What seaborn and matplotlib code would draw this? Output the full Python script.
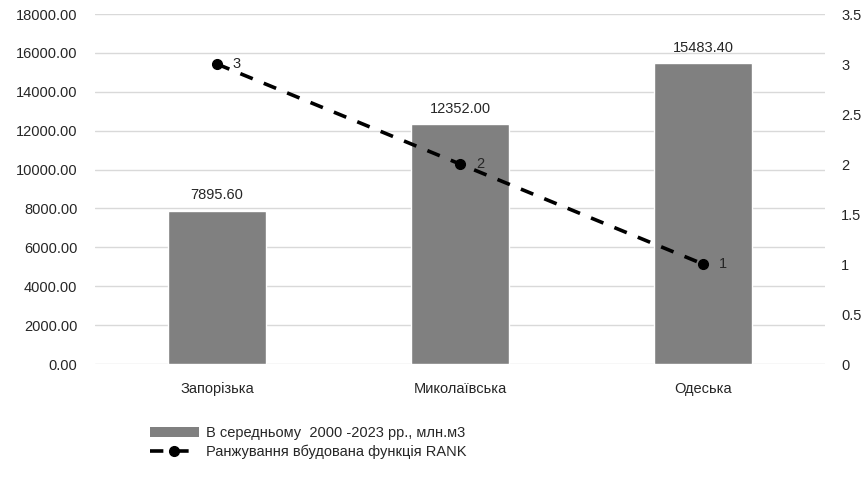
import numpy as np
import pandas as pd
import matplotlib
matplotlib.use("Agg")
import matplotlib.pyplot as plt
import seaborn as sns
from matplotlib.lines import Line2D
from matplotlib.patches import Patch

# data
regions = ["Запорізька", "Миколаївська", "Одеська"]
avg_volume = [7895.60, 12352.00, 15483.40]
rank = [3, 2, 1]

bar_label = "В середньому  2000 -2023 рр., млн.м3"
line_label = "Ранжування вбудована функція RANK"

sns.set_theme(style="white")
plt.rcParams["font.family"] = ["Liberation Sans", "DejaVu Sans"]
plt.rcParams["font.size"] = 10.5

dash = (0, (3.7, 3.3))

fig = plt.figure(figsize=(8.68, 4.92), dpi=100)
ax = fig.add_axes([0.110, 0.26, 0.840, 0.7115])

df = pd.DataFrame({"region": regions, "value": avg_volume, "rank": rank})
sns.barplot(data=df, x="region", y="value", color="#808080", width=0.4,
            saturation=1, ax=ax, zorder=2)
for i, v in enumerate(avg_volume):
    ax.annotate(f"{v:.2f}", (i, v), xytext=(0, 6), textcoords="offset points",
                ha="center", va="bottom", fontsize=10.5)

ax.set_ylim(0, 18000)
ax.set_yticks(np.arange(0, 18001, 2000))
ax.set_yticklabels([f"{t:.2f}" for t in np.arange(0, 18001, 2000)])
ax.set_xlim(-0.5, 2.5)
ax.set_xlabel("")
ax.set_ylabel("")
ax.grid(axis="y", color="#d9d9d9", linewidth=1, zorder=0)
for s in ax.spines.values():
    s.set_visible(False)
ax.tick_params(axis="both", length=0, labelsize=10.5)
ax.tick_params(axis="y", pad=13)
ax.tick_params(axis="x", pad=13)

ax2 = ax.twinx()
ax2.plot(range(len(regions)), rank, color="black", linestyle=dash,
         linewidth=2.6, marker="o", markersize=7, zorder=3)
for i, r in enumerate(rank):
    ax2.text(i + 0.065, r, str(r), ha="left", va="center", fontsize=10.5)
ax2.set_ylim(0, 3.5)
ax2.set_yticks(np.arange(0, 3.51, 0.5))
ax2.set_yticklabels(["0", "0.5", "1", "1.5", "2", "2.5", "3", "3.5"])
ax2.set_xlim(-0.5, 2.5)
for s in ax2.spines.values():
    s.set_visible(False)
ax2.tick_params(axis="y", length=0, labelsize=10.5, pad=12)
ax2.grid(False)

handles = [Patch(facecolor="#808080", edgecolor="none", label=bar_label),
           Line2D([0], [0], color="black", linestyle=dash, linewidth=2.6,
                  marker="o", markersize=7, label=line_label)]
fig.legend(handles=handles, loc="upper left", bbox_to_anchor=(0.164, 0.148),
           frameon=False, fontsize=10.5, handlelength=3.4, handleheight=0.7,
           labelspacing=0.3, handletextpad=0.45, borderpad=0)

fig.savefig("out.png", dpi=100)
